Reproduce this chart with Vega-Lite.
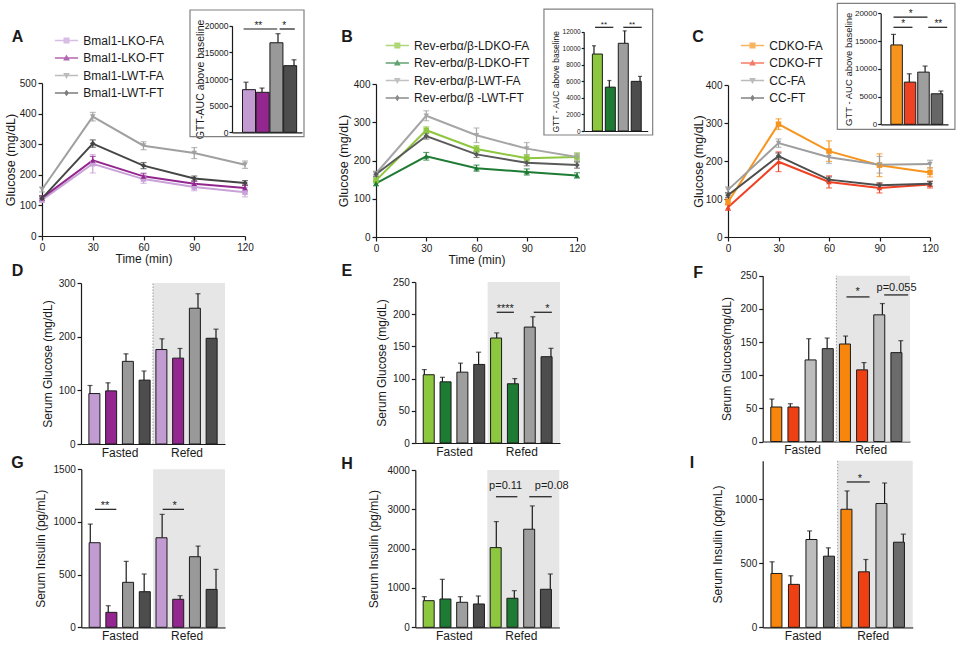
{
"$schema": "https://vega.github.io/schema/vega-lite/v6.json",
"width": 957, "height": 648, "autosize": "none", "padding": 0,
"background": "white",
"config": {
  "view": {"stroke": null},
  "font": "Liberation Sans",
  "axis": {"grid": false, "domainColor": "#1a1a1a", "tickColor": "#1a1a1a", "labelColor": "#1a1a1a", "titleColor": "#1a1a1a", "labelFont": "Liberation Sans", "titleFont": "Liberation Sans", "titleFontWeight": "normal", "labelFontSize": 10, "titleFontSize": 12, "tickSize": 4, "labelPadding": 2, "domainWidth": 1.2, "tickWidth": 1.2, "labelFlush": false, "labelOverlap": false, "zindex": 1},
  "legend": {"labelFont": "Liberation Sans", "labelColor": "#1a1a1a"},
  "text": {"font": "Liberation Sans", "color": "#1a1a1a"}
},
"datasets": {
  "lineA": [
    {"g":"Bmal1-LKO-FA","t":0,"m":118,"lo":110,"hi":126},
    {"g":"Bmal1-LKO-FA","t":30,"m":236,"lo":206,"hi":266},
    {"g":"Bmal1-LKO-FA","t":60,"m":186,"lo":172,"hi":200},
    {"g":"Bmal1-LKO-FA","t":90,"m":160,"lo":148,"hi":172},
    {"g":"Bmal1-LKO-FA","t":120,"m":143,"lo":128,"hi":158},
    {"g":"Bmal1-LKO-FT","t":0,"m":124,"lo":116,"hi":132},
    {"g":"Bmal1-LKO-FT","t":30,"m":247,"lo":234,"hi":260},
    {"g":"Bmal1-LKO-FT","t":60,"m":195,"lo":185,"hi":205},
    {"g":"Bmal1-LKO-FT","t":90,"m":171,"lo":163,"hi":179},
    {"g":"Bmal1-LKO-FT","t":120,"m":157,"lo":147,"hi":167},
    {"g":"Bmal1-LWT-FA","t":0,"m":152,"lo":144,"hi":160},
    {"g":"Bmal1-LWT-FA","t":30,"m":390,"lo":376,"hi":404},
    {"g":"Bmal1-LWT-FA","t":60,"m":295,"lo":282,"hi":308},
    {"g":"Bmal1-LWT-FA","t":90,"m":271,"lo":253,"hi":289},
    {"g":"Bmal1-LWT-FA","t":120,"m":233,"lo":221,"hi":245},
    {"g":"Bmal1-LWT-FT","t":0,"m":123,"lo":116,"hi":130},
    {"g":"Bmal1-LWT-FT","t":30,"m":302,"lo":290,"hi":314},
    {"g":"Bmal1-LWT-FT","t":60,"m":230,"lo":220,"hi":240},
    {"g":"Bmal1-LWT-FT","t":90,"m":188,"lo":180,"hi":196},
    {"g":"Bmal1-LWT-FT","t":120,"m":173,"lo":165,"hi":181}
  ],
  "lineB": [
    {"g":"Rev-erbα/β-LDKO-FA","t":0,"m":148,"lo":141,"hi":155},
    {"g":"Rev-erbα/β-LDKO-FA","t":30,"m":279,"lo":270,"hi":288},
    {"g":"Rev-erbα/β-LDKO-FA","t":60,"m":230,"lo":221,"hi":239},
    {"g":"Rev-erbα/β-LDKO-FA","t":90,"m":206,"lo":197,"hi":215},
    {"g":"Rev-erbα/β-LDKO-FA","t":120,"m":209,"lo":198,"hi":220},
    {"g":"Rev-erbα/β-LDKO-FT","t":0,"m":140,"lo":134,"hi":146},
    {"g":"Rev-erbα/β-LDKO-FT","t":30,"m":211,"lo":201,"hi":221},
    {"g":"Rev-erbα/β-LDKO-FT","t":60,"m":180,"lo":172,"hi":188},
    {"g":"Rev-erbα/β-LDKO-FT","t":90,"m":170,"lo":162,"hi":178},
    {"g":"Rev-erbα/β-LDKO-FT","t":120,"m":161,"lo":154,"hi":168},
    {"g":"Rev-erbα/β-LWT-FA","t":0,"m":166,"lo":160,"hi":172},
    {"g":"Rev-erbα/β-LWT-FA","t":30,"m":317,"lo":304,"hi":330},
    {"g":"Rev-erbα/β-LWT-FA","t":60,"m":266,"lo":247,"hi":285},
    {"g":"Rev-erbα/β-LWT-FA","t":90,"m":231,"lo":215,"hi":247},
    {"g":"Rev-erbα/β-LWT-FA","t":120,"m":209,"lo":200,"hi":218},
    {"g":"Rev-erbα/β -LWT-FT","t":0,"m":164,"lo":158,"hi":170},
    {"g":"Rev-erbα/β -LWT-FT","t":30,"m":264,"lo":256,"hi":272},
    {"g":"Rev-erbα/β -LWT-FT","t":60,"m":216,"lo":208,"hi":224},
    {"g":"Rev-erbα/β -LWT-FT","t":90,"m":194,"lo":186,"hi":202},
    {"g":"Rev-erbα/β -LWT-FT","t":120,"m":188,"lo":180,"hi":196}
  ],
  "lineC": [
    {"g":"CDKO-FA","t":0,"m":92,"lo":84,"hi":100},
    {"g":"CDKO-FA","t":30,"m":297,"lo":283,"hi":311},
    {"g":"CDKO-FA","t":60,"m":226,"lo":199,"hi":253},
    {"g":"CDKO-FA","t":90,"m":189,"lo":159,"hi":219},
    {"g":"CDKO-FA","t":120,"m":170,"lo":158,"hi":182},
    {"g":"CDKO-FT","t":0,"m":78,"lo":70,"hi":86},
    {"g":"CDKO-FT","t":30,"m":198,"lo":172,"hi":224},
    {"g":"CDKO-FT","t":60,"m":145,"lo":129,"hi":161},
    {"g":"CDKO-FT","t":90,"m":129,"lo":116,"hi":142},
    {"g":"CDKO-FT","t":120,"m":138,"lo":129,"hi":147},
    {"g":"CC-FA","t":0,"m":124,"lo":116,"hi":132},
    {"g":"CC-FA","t":30,"m":247,"lo":236,"hi":258},
    {"g":"CC-FA","t":60,"m":210,"lo":194,"hi":226},
    {"g":"CC-FA","t":90,"m":190,"lo":168,"hi":212},
    {"g":"CC-FA","t":120,"m":192,"lo":182,"hi":202},
    {"g":"CC-FT","t":0,"m":110,"lo":104,"hi":116},
    {"g":"CC-FT","t":30,"m":213,"lo":205,"hi":221},
    {"g":"CC-FT","t":60,"m":151,"lo":144,"hi":158},
    {"g":"CC-FT","t":90,"m":136,"lo":130,"hi":142},
    {"g":"CC-FT","t":120,"m":140,"lo":134,"hi":146}
  ],
  "aucA": [
    {"k":1,"g":"Bmal1-LKO-FA","m":8000,"hi":9400},
    {"k":2,"g":"Bmal1-LKO-FT","m":7500,"hi":8300},
    {"k":3,"g":"Bmal1-LWT-FA","m":16800,"hi":18500},
    {"k":4,"g":"Bmal1-LWT-FT","m":12500,"hi":13600}
  ],
  "aucB": [
    {"k":1,"g":"Rev-erbα/β-LDKO-FA","m":9300,"hi":10300},
    {"k":2,"g":"Rev-erbα/β-LDKO-FT","m":5300,"hi":6100},
    {"k":3,"g":"Rev-erbα/β-LWT-FA","m":10600,"hi":12100},
    {"k":4,"g":"Rev-erbα/β -LWT-FT","m":6000,"hi":6600}
  ],
  "aucC": [
    {"k":1,"g":"CDKO-FA","m":14300,"hi":16200},
    {"k":2,"g":"CDKO-FT","m":7600,"hi":9100},
    {"k":3,"g":"CC-FA","m":9400,"hi":10500},
    {"k":4,"g":"CC-FT","m":5500,"hi":6000}
  ],
  "sigAucA": [
    {"x1":0.85,"x2":2.95,"y":19380,"lx":1.77,"lab":"**"},
    {"x1":3.1,"x2":4.05,"y":19380,"lx":3.39,"lab":"*"}
  ],
  "sigAucB": [
    {"x1":1.07,"x2":2.26,"y":12530,"lx":1.65,"lab":"**"},
    {"x1":2.91,"x2":4.11,"y":12530,"lx":3.48,"lab":"**"}
  ],
  "sigAucC": [
    {"x1":1.0,"x2":3.15,"y":19300,"lx":2.09,"lab":"*"},
    {"x1":1.0,"x2":2.2,"y":17480,"lx":1.62,"lab":"*"},
    {"x1":3.2,"x2":4.4,"y":17480,"lx":3.84,"lab":"**"}
  ],
  "barD": [
    {"c":"Fasted","i":1,"g":"Bmal1-LKO-FA","m":94,"hi":109},
    {"c":"Fasted","i":2,"g":"Bmal1-LKO-FT","m":99,"hi":114},
    {"c":"Fasted","i":3,"g":"Bmal1-LWT-FA","m":154,"hi":168},
    {"c":"Fasted","i":4,"g":"Bmal1-LWT-FT","m":119,"hi":136},
    {"c":"Refed","i":5,"g":"Bmal1-LKO-FA","m":176,"hi":196},
    {"c":"Refed","i":6,"g":"Bmal1-LKO-FT","m":160,"hi":178},
    {"c":"Refed","i":7,"g":"Bmal1-LWT-FA","m":253,"hi":280},
    {"c":"Refed","i":8,"g":"Bmal1-LWT-FT","m":197,"hi":214}
  ],
  "barG": [
    {"c":"Fasted","i":1,"g":"Bmal1-LKO-FA","m":803,"hi":980},
    {"c":"Fasted","i":2,"g":"Bmal1-LKO-FT","m":142,"hi":205},
    {"c":"Fasted","i":3,"g":"Bmal1-LWT-FA","m":427,"hi":626},
    {"c":"Fasted","i":4,"g":"Bmal1-LWT-FT","m":338,"hi":506},
    {"c":"Refed","i":5,"g":"Bmal1-LKO-FA","m":850,"hi":1072},
    {"c":"Refed","i":6,"g":"Bmal1-LKO-FT","m":266,"hi":300},
    {"c":"Refed","i":7,"g":"Bmal1-LWT-FA","m":670,"hi":771},
    {"c":"Refed","i":8,"g":"Bmal1-LWT-FT","m":360,"hi":550}
  ],
  "barE": [
    {"c":"Fasted","i":1,"g":"Rev-erbα/β-LDKO-FA","m":106,"hi":114},
    {"c":"Fasted","i":2,"g":"Rev-erbα/β-LDKO-FT","m":95,"hi":102},
    {"c":"Fasted","i":3,"g":"Rev-erbα/β-LWT-FA","m":110,"hi":124},
    {"c":"Fasted","i":4,"g":"Rev-erbα/β -LWT-FT","m":122,"hi":141},
    {"c":"Refed","i":5,"g":"Rev-erbα/β-LDKO-FA","m":163,"hi":171},
    {"c":"Refed","i":6,"g":"Rev-erbα/β-LDKO-FT","m":92,"hi":100},
    {"c":"Refed","i":7,"g":"Rev-erbα/β-LWT-FA","m":180,"hi":196},
    {"c":"Refed","i":8,"g":"Rev-erbα/β -LWT-FT","m":134,"hi":147}
  ],
  "barH": [
    {"c":"Fasted","i":1,"g":"Rev-erbα/β-LDKO-FA","m":677,"hi":779},
    {"c":"Fasted","i":2,"g":"Rev-erbα/β-LDKO-FT","m":720,"hi":1220},
    {"c":"Fasted","i":3,"g":"Rev-erbα/β-LWT-FA","m":636,"hi":779},
    {"c":"Fasted","i":4,"g":"Rev-erbα/β -LWT-FT","m":593,"hi":797},
    {"c":"Refed","i":5,"g":"Rev-erbα/β-LDKO-FA","m":2026,"hi":2688},
    {"c":"Refed","i":6,"g":"Rev-erbα/β-LDKO-FT","m":738,"hi":932},
    {"c":"Refed","i":7,"g":"Rev-erbα/β-LWT-FA","m":2494,"hi":3087},
    {"c":"Refed","i":8,"g":"Rev-erbα/β -LWT-FT","m":967,"hi":1356}
  ],
  "barF": [
    {"c":"Fasted","i":1,"g":"CDKO-FA","m":52,"hi":64},
    {"c":"Fasted","i":2,"g":"CDKO-FT","m":52,"hi":57},
    {"c":"Fasted","i":3,"g":"CC-FA","m":123,"hi":155},
    {"c":"Fasted","i":4,"g":"CC-FT","m":140,"hi":156},
    {"c":"Refed","i":5,"g":"CDKO-FA","m":147,"hi":159},
    {"c":"Refed","i":6,"g":"CDKO-FT","m":108,"hi":119},
    {"c":"Refed","i":7,"g":"CC-FA","m":191,"hi":208},
    {"c":"Refed","i":8,"g":"CC-FT","m":134,"hi":152}
  ],
  "barI": [
    {"c":"Fasted","i":1,"g":"CDKO-FA","m":420,"hi":511},
    {"c":"Fasted","i":2,"g":"CDKO-FT","m":335,"hi":402},
    {"c":"Fasted","i":3,"g":"CC-FA","m":685,"hi":752},
    {"c":"Fasted","i":4,"g":"CC-FT","m":555,"hi":620},
    {"c":"Refed","i":5,"g":"CDKO-FA","m":921,"hi":1064},
    {"c":"Refed","i":6,"g":"CDKO-FT","m":433,"hi":529},
    {"c":"Refed","i":7,"g":"CC-FA","m":966,"hi":1126},
    {"c":"Refed","i":8,"g":"CC-FT","m":664,"hi":727}
  ],
  "sigE": [
    {"x1":5.0,"x2":5.95,"y":203,"lx":5.47,"ly":203,"lab":"****"},
    {"x1":7.05,"x2":8.05,"y":203,"lx":7.8,"ly":203,"lab":"*"}
  ],
  "sigF": [
    {"x1":5.05,"x2":6.3,"y":218,"lx":5.66,"ly":221,"lab":"*"},
    {"x1":7.1,"x2":8.4,"y":221,"lx":7.77,"ly":227,"lab":"p=0.055"}
  ],
  "sigG": [
    {"x1":1.26,"x2":2.45,"y":1120,"lx":1.82,"ly":1120,"lab":"**"},
    {"x1":5.03,"x2":6.22,"y":1120,"lx":5.7,"ly":1120,"lab":"*"}
  ],
  "sigH": [
    {"x1":4.98,"x2":6.17,"y":3320,"lx":5.52,"ly":3516,"lab":"p=0.11"},
    {"x1":6.83,"x2":8.08,"y":3320,"lx":8.08,"ly":3516,"lab":"p=0.08"}
  ],
  "sigI": [
    {"x1":4.98,"x2":6.21,"y":1134,"lx":5.69,"ly":1134,"lab":"*"}
  ]
},
"resolve": {"scale": {"x": "independent", "y": "independent", "color": "independent", "shape": "independent"}},
"layer": [
    {"data": {"name": "lineA"}, "transform": [{"filter": "false"}], "mark": {"type": "point", "filled": true},
     "encoding": {
       "color": {"field": "g", "type": "nominal", "scale": {"domain": ["Bmal1-LKO-FA","Bmal1-LKO-FT","Bmal1-LWT-FA","Bmal1-LWT-FT"], "range": ["#C8A2D8","#93278F","#A0A0A0","#454545"]}, "legend": {"title": null, "orient": "none", "legendX": 58.5, "legendY": 32.5, "direction": "vertical", "columns": 1, "symbolSize": 256, "symbolStrokeWidth": 0, "labelOffset": 8.8, "rowPadding": 3.5, "labelFontSize": 12, "labelLimit": 300}},
       "shape": {"field": "g", "type": "nominal", "scale": {"domain": ["Bmal1-LKO-FA","Bmal1-LKO-FT","Bmal1-LWT-FA","Bmal1-LWT-FT"], "range": ["M-1.45,-0.1H1.45V0.1H-1.45ZM-0.38,-0.38H0.38V0.38H-0.38Z","M-1.45,-0.1H1.45V0.1H-1.45ZM0,-0.45L0.42,0.3H-0.42Z","M-1.45,-0.1H1.45V0.1H-1.45ZM0,0.45L-0.42,-0.3H0.42Z","M-1.45,-0.1H1.45V0.1H-1.45ZM0,-0.42L0.3,0L0,0.42L-0.3,0Z"]}, "legend": {"title": null, "orient": "none", "legendX": 58.5, "legendY": 32.5, "direction": "vertical", "columns": 1, "symbolSize": 256, "symbolStrokeWidth": 0, "labelOffset": 8.8, "rowPadding": 3.5, "labelFontSize": 12, "labelLimit": 300}}
     }},
    {"data": {"name": "lineA"}, "mark": {"type": "rule", "strokeWidth": 1.2},
     "encoding": {
       "x": {"field": "t", "type": "quantitative", "scale": {"domain": [0,120], "range": [42,245], "nice": false, "zero": false}, "axis": {"orient": "bottom", "offset": -412, "values": [0,30,60,90,120], "title": "Time (min)", "titleFontSize": 12, "titlePadding": 1}},
       "y": {"field": "lo", "type": "quantitative", "scale": {"domain": [0,500], "range": [236,83], "nice": false, "zero": false}, "axis": {"orient": "left", "offset": -42, "values": [0,100,200,300,400,500], "format": "d", "title": "Glucose (mg/dL)", "titleFontSize": 12.5, "titleX": -32, "titleBaseline": "middle"}},
       "y2": {"field": "hi"},
       "color": {"field": "g", "type": "nominal", "scale": {"domain": ["Bmal1-LKO-FA","Bmal1-LKO-FT","Bmal1-LWT-FA","Bmal1-LWT-FT"], "range": ["#C8A2D8","#93278F","#A0A0A0","#454545"]}, "legend": null}
     }},
    {"data": {"name": "lineA"}, "mark": {"type": "tick", "orient": "horizontal", "size": 6, "thickness": 1.2},
     "encoding": {
       "x": {"field": "t", "type": "quantitative", "scale": {"domain": [0,120], "range": [42,245], "nice": false, "zero": false}, "axis": null},
       "y": {"field": "lo", "type": "quantitative", "scale": {"domain": [0,500], "range": [236,83], "nice": false, "zero": false}, "axis": null},
       "color": {"field": "g", "type": "nominal", "scale": {"domain": ["Bmal1-LKO-FA","Bmal1-LKO-FT","Bmal1-LWT-FA","Bmal1-LWT-FT"], "range": ["#C8A2D8","#93278F","#A0A0A0","#454545"]}, "legend": null}
     }},
    {"data": {"name": "lineA"}, "mark": {"type": "tick", "orient": "horizontal", "size": 6, "thickness": 1.2},
     "encoding": {
       "x": {"field": "t", "type": "quantitative", "scale": {"domain": [0,120], "range": [42,245], "nice": false, "zero": false}, "axis": null},
       "y": {"field": "hi", "type": "quantitative", "scale": {"domain": [0,500], "range": [236,83], "nice": false, "zero": false}, "axis": null},
       "color": {"field": "g", "type": "nominal", "scale": {"domain": ["Bmal1-LKO-FA","Bmal1-LKO-FT","Bmal1-LWT-FA","Bmal1-LWT-FT"], "range": ["#C8A2D8","#93278F","#A0A0A0","#454545"]}, "legend": null}
     }},
    {"data": {"name": "lineA"}, "mark": {"type": "line", "strokeWidth": 2},
     "encoding": {
       "x": {"field": "t", "type": "quantitative", "scale": {"domain": [0,120], "range": [42,245], "nice": false, "zero": false}, "axis": null},
       "y": {"field": "m", "type": "quantitative", "scale": {"domain": [0,500], "range": [236,83], "nice": false, "zero": false}, "axis": null},
       "color": {"field": "g", "type": "nominal", "scale": {"domain": ["Bmal1-LKO-FA","Bmal1-LKO-FT","Bmal1-LWT-FA","Bmal1-LWT-FT"], "range": ["#C8A2D8","#93278F","#A0A0A0","#454545"]}, "legend": null}
     }},
    {"data": {"name": "lineA"}, "mark": {"type": "point", "filled": true, "size": 30, "opacity": 1},
     "encoding": {
       "x": {"field": "t", "type": "quantitative", "scale": {"domain": [0,120], "range": [42,245], "nice": false, "zero": false}, "axis": null},
       "y": {"field": "m", "type": "quantitative", "scale": {"domain": [0,500], "range": [236,83], "nice": false, "zero": false}, "axis": null},
       "color": {"field": "g", "type": "nominal", "scale": {"domain": ["Bmal1-LKO-FA","Bmal1-LKO-FT","Bmal1-LWT-FA","Bmal1-LWT-FT"], "range": ["#C8A2D8","#93278F","#A0A0A0","#454545"]}, "legend": null},
       "shape": {"field": "g", "type": "nominal", "scale": {"domain": ["Bmal1-LKO-FA","Bmal1-LKO-FT","Bmal1-LWT-FA","Bmal1-LWT-FT"], "range": ["square","triangle-up","triangle-down","diamond"]}, "legend": null}
     }},
    {"data": {"values": [{"p": "A"}]},
     "mark": {"type": "text", "fontSize": 16, "fontWeight": "bold", "align": "center", "baseline": "alphabetic"},
     "encoding": {
       "x": {"datum": -14.5, "type": "quantitative", "scale": {"domain": [0,120], "range": [42,245], "nice": false, "zero": false}, "axis": null},
       "y": {"datum": 634, "type": "quantitative", "scale": {"domain": [0,500], "range": [236,83], "nice": false, "zero": false}, "axis": null},
       "text": {"field": "p"}
     }},

    {"data": {"values": [{}]}, "mark": {"type": "rect", "fill": "transparent", "stroke": "#808080", "strokeWidth": 1.2},
     "encoding": {"x": {"datum": -2.5, "type": "quantitative", "scale": {"domain": [0.125,4.5], "range": [232,302], "nice": false, "zero": false}, "axis": null}, "x2": {"datum": 4.625},
                  "y": {"datum": -825, "type": "quantitative", "scale": {"domain": [0,20000], "range": [132.3,25.7], "nice": false, "zero": false}, "axis": null}, "y2": {"datum": 22946}}},
    {"data": {"name": "aucA"}, "mark": {"type": "rule", "color": "#1a1a1a", "strokeWidth": 1.2},
     "encoding": {"x": {"field": "k", "type": "quantitative", "scale": {"domain": [0.125,4.5], "range": [232,302], "nice": false, "zero": false}, "axis": null},
                  "y": {"field": "m", "type": "quantitative", "scale": {"domain": [0,20000], "range": [132.3,25.7], "nice": false, "zero": false}, "axis": null}, "y2": {"field": "hi"}}},
    {"data": {"name": "aucA"}, "mark": {"type": "tick", "orient": "horizontal", "size": 5, "thickness": 1.2, "color": "#1a1a1a"},
     "encoding": {"x": {"field": "k", "type": "quantitative", "scale": {"domain": [0.125,4.5], "range": [232,302], "nice": false, "zero": false}, "axis": null},
                  "y": {"field": "hi", "type": "quantitative", "scale": {"domain": [0,20000], "range": [132.3,25.7], "nice": false, "zero": false}, "axis": null}}},
    {"data": {"name": "aucA"}, "mark": {"type": "bar", "orient": "vertical", "width": 13, "stroke": "#1a1a1a", "strokeWidth": 1},
     "encoding": {"x": {"field": "k", "type": "quantitative", "scale": {"domain": [0.125,4.5], "range": [232,302], "nice": false, "zero": false}, "axis": {"orient": "bottom", "offset": -515.7, "labels": false, "ticks": false, "title": null}},
                  "y": {"field": "m", "type": "quantitative", "stack": null, "scale": {"domain": [0,20000], "range": [132.3,25.7], "nice": false, "zero": false}, "axis": {"orient": "left", "offset": -232, "values": [0,5000,10000,15000,20000], "format": "d", "labelFontSize": 8.5, "tickSize": 3, "labelPadding": 1, "title": "GTT-AUC above baseline", "titleFontSize": 10.5, "titleX": -32, "titleBaseline": "middle"}},
                  "y2": {"datum": 0},
                  "color": {"field": "g", "type": "nominal", "scale": {"domain": ["Bmal1-LKO-FA","Bmal1-LKO-FT","Bmal1-LWT-FA","Bmal1-LWT-FT"], "range": ["#C39BD3","#93278F","#999999","#4D4D4D"]}, "legend": null}}},
    {"data": {"name": "sigAucA"}, "mark": {"type": "rule", "color": "#1a1a1a", "strokeWidth": 1.2},
     "encoding": {"x": {"field": "x1", "type": "quantitative", "scale": {"domain": [0.125,4.5], "range": [232,302], "nice": false, "zero": false}, "axis": null}, "x2": {"field": "x2"},
                  "y": {"field": "y", "type": "quantitative", "scale": {"domain": [0,20000], "range": [132.3,25.7], "nice": false, "zero": false}, "axis": null}}},
    {"data": {"name": "sigAucA"}, "mark": {"type": "text", "fontSize": 10, "align": "center", "baseline": "alphabetic"},
     "encoding": {"x": {"field": "lx", "type": "quantitative", "scale": {"domain": [0.125,4.5], "range": [232,302], "nice": false, "zero": false}, "axis": null},
                  "y": {"field": "y", "type": "quantitative", "scale": {"domain": [0,20000], "range": [132.3,25.7], "nice": false, "zero": false}, "axis": null}, "text": {"field": "lab"}}},

    {"data": {"name": "lineB"}, "transform": [{"filter": "false"}], "mark": {"type": "point", "filled": true},
     "encoding": {
       "color": {"field": "g", "type": "nominal", "scale": {"domain": ["Rev-erbα/β-LDKO-FA","Rev-erbα/β-LDKO-FT","Rev-erbα/β-LWT-FA","Rev-erbα/β -LWT-FT"], "range": ["#8DC63F","#1E7B34","#A6A6A6","#5A5A5A"]}, "legend": {"title": null, "orient": "none", "legendX": 389.3, "legendY": 37.5, "direction": "vertical", "columns": 1, "symbolSize": 256, "symbolStrokeWidth": 0, "labelOffset": 8.8, "rowPadding": 3.5, "labelFontSize": 12, "labelLimit": 300}},
       "shape": {"field": "g", "type": "nominal", "scale": {"domain": ["Rev-erbα/β-LDKO-FA","Rev-erbα/β-LDKO-FT","Rev-erbα/β-LWT-FA","Rev-erbα/β -LWT-FT"], "range": ["M-1.45,-0.1H1.45V0.1H-1.45ZM-0.38,-0.38H0.38V0.38H-0.38Z","M-1.45,-0.1H1.45V0.1H-1.45ZM0,-0.45L0.42,0.3H-0.42Z","M-1.45,-0.1H1.45V0.1H-1.45ZM0,0.45L-0.42,-0.3H0.42Z","M-1.45,-0.1H1.45V0.1H-1.45ZM0,-0.42L0.3,0L0,0.42L-0.3,0Z"]}, "legend": {"title": null, "orient": "none", "legendX": 389.3, "legendY": 37.5, "direction": "vertical", "columns": 1, "symbolSize": 256, "symbolStrokeWidth": 0, "labelOffset": 8.8, "rowPadding": 3.5, "labelFontSize": 12, "labelLimit": 300}}
     }},
    {"data": {"name": "lineB"}, "mark": {"type": "rule", "strokeWidth": 1.2},
     "encoding": {
       "x": {"field": "t", "type": "quantitative", "scale": {"domain": [0,120], "range": [376,577], "nice": false, "zero": false}, "axis": {"orient": "bottom", "offset": -411, "values": [0,30,60,90,120], "title": "Time (min)", "titleFontSize": 12, "titlePadding": 1}},
       "y": {"field": "lo", "type": "quantitative", "scale": {"domain": [0,400], "range": [237,84], "nice": false, "zero": false}, "axis": {"orient": "left", "offset": -376, "values": [0,100,200,300,400], "format": "d", "title": "Glucose (mg/dL)", "titleFontSize": 12.5, "titleX": -33, "titleBaseline": "middle"}},
       "y2": {"field": "hi"},
       "color": {"field": "g", "type": "nominal", "scale": {"domain": ["Rev-erbα/β-LDKO-FA","Rev-erbα/β-LDKO-FT","Rev-erbα/β-LWT-FA","Rev-erbα/β -LWT-FT"], "range": ["#8DC63F","#1E7B34","#A6A6A6","#5A5A5A"]}, "legend": null}
     }},
    {"data": {"name": "lineB"}, "mark": {"type": "tick", "orient": "horizontal", "size": 6, "thickness": 1.2},
     "encoding": {
       "x": {"field": "t", "type": "quantitative", "scale": {"domain": [0,120], "range": [376,577], "nice": false, "zero": false}, "axis": null},
       "y": {"field": "lo", "type": "quantitative", "scale": {"domain": [0,400], "range": [237,84], "nice": false, "zero": false}, "axis": null},
       "color": {"field": "g", "type": "nominal", "scale": {"domain": ["Rev-erbα/β-LDKO-FA","Rev-erbα/β-LDKO-FT","Rev-erbα/β-LWT-FA","Rev-erbα/β -LWT-FT"], "range": ["#8DC63F","#1E7B34","#A6A6A6","#5A5A5A"]}, "legend": null}
     }},
    {"data": {"name": "lineB"}, "mark": {"type": "tick", "orient": "horizontal", "size": 6, "thickness": 1.2},
     "encoding": {
       "x": {"field": "t", "type": "quantitative", "scale": {"domain": [0,120], "range": [376,577], "nice": false, "zero": false}, "axis": null},
       "y": {"field": "hi", "type": "quantitative", "scale": {"domain": [0,400], "range": [237,84], "nice": false, "zero": false}, "axis": null},
       "color": {"field": "g", "type": "nominal", "scale": {"domain": ["Rev-erbα/β-LDKO-FA","Rev-erbα/β-LDKO-FT","Rev-erbα/β-LWT-FA","Rev-erbα/β -LWT-FT"], "range": ["#8DC63F","#1E7B34","#A6A6A6","#5A5A5A"]}, "legend": null}
     }},
    {"data": {"name": "lineB"}, "mark": {"type": "line", "strokeWidth": 2},
     "encoding": {
       "x": {"field": "t", "type": "quantitative", "scale": {"domain": [0,120], "range": [376,577], "nice": false, "zero": false}, "axis": null},
       "y": {"field": "m", "type": "quantitative", "scale": {"domain": [0,400], "range": [237,84], "nice": false, "zero": false}, "axis": null},
       "color": {"field": "g", "type": "nominal", "scale": {"domain": ["Rev-erbα/β-LDKO-FA","Rev-erbα/β-LDKO-FT","Rev-erbα/β-LWT-FA","Rev-erbα/β -LWT-FT"], "range": ["#8DC63F","#1E7B34","#A6A6A6","#5A5A5A"]}, "legend": null}
     }},
    {"data": {"name": "lineB"}, "mark": {"type": "point", "filled": true, "size": 30, "opacity": 1},
     "encoding": {
       "x": {"field": "t", "type": "quantitative", "scale": {"domain": [0,120], "range": [376,577], "nice": false, "zero": false}, "axis": null},
       "y": {"field": "m", "type": "quantitative", "scale": {"domain": [0,400], "range": [237,84], "nice": false, "zero": false}, "axis": null},
       "color": {"field": "g", "type": "nominal", "scale": {"domain": ["Rev-erbα/β-LDKO-FA","Rev-erbα/β-LDKO-FT","Rev-erbα/β-LWT-FA","Rev-erbα/β -LWT-FT"], "range": ["#8DC63F","#1E7B34","#A6A6A6","#5A5A5A"]}, "legend": null},
       "shape": {"field": "g", "type": "nominal", "scale": {"domain": ["Rev-erbα/β-LDKO-FA","Rev-erbα/β-LDKO-FT","Rev-erbα/β-LWT-FA","Rev-erbα/β -LWT-FT"], "range": ["square","triangle-up","triangle-down","diamond"]}, "legend": null}
     }},
    {"data": {"values": [{"p": "B"}]},
     "mark": {"type": "text", "fontSize": 16, "fontWeight": "bold", "align": "center", "baseline": "alphabetic"},
     "encoding": {
       "x": {"datum": -17.3, "type": "quantitative", "scale": {"domain": [0,120], "range": [376,577], "nice": false, "zero": false}, "axis": null},
       "y": {"datum": 510, "type": "quantitative", "scale": {"domain": [0,400], "range": [237,84], "nice": false, "zero": false}, "axis": null},
       "text": {"field": "p"}
     }},

    {"data": {"values": [{}]}, "mark": {"type": "rect", "fill": "transparent", "stroke": "#808080", "strokeWidth": 1.2},
     "encoding": {"x": {"datum": -2.26, "type": "quantitative", "scale": {"domain": [0.33,4.5], "range": [583.7,647.7], "nice": false, "zero": false}, "axis": null}, "x2": {"datum": 4.825},
                  "y": {"datum": -483, "type": "quantitative", "scale": {"domain": [0,12000], "range": [131,31.7], "nice": false, "zero": false}, "axis": null}, "y2": {"datum": 14740}}},
    {"data": {"name": "aucB"}, "mark": {"type": "rule", "color": "#1a1a1a", "strokeWidth": 1.2},
     "encoding": {"x": {"field": "k", "type": "quantitative", "scale": {"domain": [0.33,4.5], "range": [583.7,647.7], "nice": false, "zero": false}, "axis": null},
                  "y": {"field": "m", "type": "quantitative", "scale": {"domain": [0,12000], "range": [131,31.7], "nice": false, "zero": false}, "axis": null}, "y2": {"field": "hi"}}},
    {"data": {"name": "aucB"}, "mark": {"type": "tick", "orient": "horizontal", "size": 4, "thickness": 1.2, "color": "#1a1a1a"},
     "encoding": {"x": {"field": "k", "type": "quantitative", "scale": {"domain": [0.33,4.5], "range": [583.7,647.7], "nice": false, "zero": false}, "axis": null},
                  "y": {"field": "hi", "type": "quantitative", "scale": {"domain": [0,12000], "range": [131,31.7], "nice": false, "zero": false}, "axis": null}}},
    {"data": {"name": "aucB"}, "mark": {"type": "bar", "orient": "vertical", "width": 10, "stroke": "#1a1a1a", "strokeWidth": 1},
     "encoding": {"x": {"field": "k", "type": "quantitative", "scale": {"domain": [0.33,4.5], "range": [583.7,647.7], "nice": false, "zero": false}, "axis": {"orient": "bottom", "offset": -517, "labels": false, "ticks": false, "title": null}},
                  "y": {"field": "m", "type": "quantitative", "stack": null, "scale": {"domain": [0,12000], "range": [131,31.7], "nice": false, "zero": false}, "axis": {"orient": "left", "offset": -583.7, "values": [0,2000,4000,6000,8000,10000,12000], "format": "d", "labelFontSize": 6.5, "tickSize": 2.5, "labelPadding": 1, "title": "GTT - AUC above baseline", "titleFontSize": 8.5, "titleX": -28.7, "titleBaseline": "middle"}},
                  "y2": {"datum": 0},
                  "color": {"field": "g", "type": "nominal", "scale": {"domain": ["Rev-erbα/β-LDKO-FA","Rev-erbα/β-LDKO-FT","Rev-erbα/β-LWT-FA","Rev-erbα/β -LWT-FT"], "range": ["#8DC63F","#1E7B34","#9E9E9E","#4D4D4D"]}, "legend": null}}},
    {"data": {"name": "sigAucB"}, "mark": {"type": "rule", "color": "#1a1a1a", "strokeWidth": 1.2},
     "encoding": {"x": {"field": "x1", "type": "quantitative", "scale": {"domain": [0.33,4.5], "range": [583.7,647.7], "nice": false, "zero": false}, "axis": null}, "x2": {"field": "x2"},
                  "y": {"field": "y", "type": "quantitative", "scale": {"domain": [0,12000], "range": [131,31.7], "nice": false, "zero": false}, "axis": null}}},
    {"data": {"name": "sigAucB"}, "mark": {"type": "text", "fontSize": 8, "align": "center", "baseline": "alphabetic"},
     "encoding": {"x": {"field": "lx", "type": "quantitative", "scale": {"domain": [0.33,4.5], "range": [583.7,647.7], "nice": false, "zero": false}, "axis": null},
                  "y": {"field": "y", "type": "quantitative", "scale": {"domain": [0,12000], "range": [131,31.7], "nice": false, "zero": false}, "axis": null}, "text": {"field": "lab"}}},

    {"data": {"name": "lineC"}, "transform": [{"filter": "false"}], "mark": {"type": "point", "filled": true},
     "encoding": {
       "color": {"field": "g", "type": "nominal", "scale": {"domain": ["CDKO-FA","CDKO-FT","CC-FA","CC-FT"], "range": ["#F7941D","#EF4123","#9E9E9E","#4D4D4D"]}, "legend": {"title": null, "orient": "none", "legendX": 744.5, "legendY": 37.5, "direction": "vertical", "columns": 1, "symbolSize": 256, "symbolStrokeWidth": 0, "labelOffset": 8.8, "rowPadding": 3.5, "labelFontSize": 12, "labelLimit": 300}},
       "shape": {"field": "g", "type": "nominal", "scale": {"domain": ["CDKO-FA","CDKO-FT","CC-FA","CC-FT"], "range": ["M-1.45,-0.1H1.45V0.1H-1.45ZM-0.38,-0.38H0.38V0.38H-0.38Z","M-1.45,-0.1H1.45V0.1H-1.45ZM0,-0.45L0.42,0.3H-0.42Z","M-1.45,-0.1H1.45V0.1H-1.45ZM0,0.45L-0.42,-0.3H0.42Z","M-1.45,-0.1H1.45V0.1H-1.45ZM0,-0.42L0.3,0L0,0.42L-0.3,0Z"]}, "legend": {"title": null, "orient": "none", "legendX": 744.5, "legendY": 37.5, "direction": "vertical", "columns": 1, "symbolSize": 256, "symbolStrokeWidth": 0, "labelOffset": 8.8, "rowPadding": 3.5, "labelFontSize": 12, "labelLimit": 300}}
     }},
    {"data": {"name": "lineC"}, "mark": {"type": "rule", "strokeWidth": 1.2},
     "encoding": {
       "x": {"field": "t", "type": "quantitative", "scale": {"domain": [0,120], "range": [728,930], "nice": false, "zero": false}, "axis": {"orient": "bottom", "offset": -411, "values": [0,30,60,90,120], "title": null}},
       "y": {"field": "lo", "type": "quantitative", "scale": {"domain": [0,400], "range": [237,85], "nice": false, "zero": false}, "axis": {"orient": "left", "offset": -728, "values": [0,100,200,300,400], "format": "d", "title": "Glucose (mg/dL)", "titleFontSize": 12.5, "titleX": -30, "titleBaseline": "middle"}},
       "y2": {"field": "hi"},
       "color": {"field": "g", "type": "nominal", "scale": {"domain": ["CDKO-FA","CDKO-FT","CC-FA","CC-FT"], "range": ["#F7941D","#EF4123","#9E9E9E","#4D4D4D"]}, "legend": null}
     }},
    {"data": {"name": "lineC"}, "mark": {"type": "tick", "orient": "horizontal", "size": 6, "thickness": 1.2},
     "encoding": {
       "x": {"field": "t", "type": "quantitative", "scale": {"domain": [0,120], "range": [728,930], "nice": false, "zero": false}, "axis": null},
       "y": {"field": "lo", "type": "quantitative", "scale": {"domain": [0,400], "range": [237,85], "nice": false, "zero": false}, "axis": null},
       "color": {"field": "g", "type": "nominal", "scale": {"domain": ["CDKO-FA","CDKO-FT","CC-FA","CC-FT"], "range": ["#F7941D","#EF4123","#9E9E9E","#4D4D4D"]}, "legend": null}
     }},
    {"data": {"name": "lineC"}, "mark": {"type": "tick", "orient": "horizontal", "size": 6, "thickness": 1.2},
     "encoding": {
       "x": {"field": "t", "type": "quantitative", "scale": {"domain": [0,120], "range": [728,930], "nice": false, "zero": false}, "axis": null},
       "y": {"field": "hi", "type": "quantitative", "scale": {"domain": [0,400], "range": [237,85], "nice": false, "zero": false}, "axis": null},
       "color": {"field": "g", "type": "nominal", "scale": {"domain": ["CDKO-FA","CDKO-FT","CC-FA","CC-FT"], "range": ["#F7941D","#EF4123","#9E9E9E","#4D4D4D"]}, "legend": null}
     }},
    {"data": {"name": "lineC"}, "mark": {"type": "line", "strokeWidth": 2},
     "encoding": {
       "x": {"field": "t", "type": "quantitative", "scale": {"domain": [0,120], "range": [728,930], "nice": false, "zero": false}, "axis": null},
       "y": {"field": "m", "type": "quantitative", "scale": {"domain": [0,400], "range": [237,85], "nice": false, "zero": false}, "axis": null},
       "color": {"field": "g", "type": "nominal", "scale": {"domain": ["CDKO-FA","CDKO-FT","CC-FA","CC-FT"], "range": ["#F7941D","#EF4123","#9E9E9E","#4D4D4D"]}, "legend": null}
     }},
    {"data": {"name": "lineC"}, "mark": {"type": "point", "filled": true, "size": 30, "opacity": 1},
     "encoding": {
       "x": {"field": "t", "type": "quantitative", "scale": {"domain": [0,120], "range": [728,930], "nice": false, "zero": false}, "axis": null},
       "y": {"field": "m", "type": "quantitative", "scale": {"domain": [0,400], "range": [237,85], "nice": false, "zero": false}, "axis": null},
       "color": {"field": "g", "type": "nominal", "scale": {"domain": ["CDKO-FA","CDKO-FT","CC-FA","CC-FT"], "range": ["#F7941D","#EF4123","#9E9E9E","#4D4D4D"]}, "legend": null},
       "shape": {"field": "g", "type": "nominal", "scale": {"domain": ["CDKO-FA","CDKO-FT","CC-FA","CC-FT"], "range": ["square","triangle-up","triangle-down","diamond"]}, "legend": null}
     }},
    {"data": {"values": [{"p": "C"}]},
     "mark": {"type": "text", "fontSize": 16, "fontWeight": "bold", "align": "center", "baseline": "alphabetic"},
     "encoding": {
       "x": {"datum": -17.8, "type": "quantitative", "scale": {"domain": [0,120], "range": [728,930], "nice": false, "zero": false}, "axis": null},
       "y": {"datum": 513, "type": "quantitative", "scale": {"domain": [0,400], "range": [237,85], "nice": false, "zero": false}, "axis": null},
       "text": {"field": "p"}
     }},

    {"data": {"values": [{}]}, "mark": {"type": "rect", "fill": "transparent", "stroke": "#808080", "strokeWidth": 1.2},
     "encoding": {"x": {"datum": -2.557, "type": "quantitative", "scale": {"domain": [0.19,4.45], "range": [880.7,948], "nice": false, "zero": false}, "axis": null}, "x2": {"datum": 4.89},
                  "y": {"datum": -901, "type": "quantitative", "scale": {"domain": [0,20000], "range": [124.3,13.3], "nice": false, "zero": false}, "axis": null}, "y2": {"datum": 21802}}},
    {"data": {"name": "aucC"}, "mark": {"type": "rule", "color": "#1a1a1a", "strokeWidth": 1.2},
     "encoding": {"x": {"field": "k", "type": "quantitative", "scale": {"domain": [0.19,4.45], "range": [880.7,948], "nice": false, "zero": false}, "axis": null},
                  "y": {"field": "m", "type": "quantitative", "scale": {"domain": [0,20000], "range": [124.3,13.3], "nice": false, "zero": false}, "axis": null}, "y2": {"field": "hi"}}},
    {"data": {"name": "aucC"}, "mark": {"type": "tick", "orient": "horizontal", "size": 5, "thickness": 1.2, "color": "#1a1a1a"},
     "encoding": {"x": {"field": "k", "type": "quantitative", "scale": {"domain": [0.19,4.45], "range": [880.7,948], "nice": false, "zero": false}, "axis": null},
                  "y": {"field": "hi", "type": "quantitative", "scale": {"domain": [0,20000], "range": [124.3,13.3], "nice": false, "zero": false}, "axis": null}}},
    {"data": {"name": "aucC"}, "mark": {"type": "bar", "orient": "vertical", "width": 11.5, "stroke": "#1a1a1a", "strokeWidth": 1},
     "encoding": {"x": {"field": "k", "type": "quantitative", "scale": {"domain": [0.19,4.45], "range": [880.7,948], "nice": false, "zero": false}, "axis": {"orient": "bottom", "offset": -523.7, "labels": false, "ticks": false, "title": null}},
                  "y": {"field": "m", "type": "quantitative", "stack": null, "scale": {"domain": [0,20000], "range": [124.3,13.3], "nice": false, "zero": false}, "axis": {"orient": "left", "offset": -880.7, "values": [0,5000,10000,15000,20000], "format": "d", "labelFontSize": 8, "tickSize": 3, "labelPadding": 1, "title": "GTT - AUC above baseline", "titleFontSize": 9.5, "titleX": -32.4, "titleBaseline": "middle"}},
                  "y2": {"datum": 0},
                  "color": {"field": "g", "type": "nominal", "scale": {"domain": ["CDKO-FA","CDKO-FT","CC-FA","CC-FT"], "range": ["#F7941D","#EF4123","#9E9E9E","#666666"]}, "legend": null}}},
    {"data": {"name": "sigAucC"}, "mark": {"type": "rule", "color": "#1a1a1a", "strokeWidth": 1.2},
     "encoding": {"x": {"field": "x1", "type": "quantitative", "scale": {"domain": [0.19,4.45], "range": [880.7,948], "nice": false, "zero": false}, "axis": null}, "x2": {"field": "x2"},
                  "y": {"field": "y", "type": "quantitative", "scale": {"domain": [0,20000], "range": [124.3,13.3], "nice": false, "zero": false}, "axis": null}}},
    {"data": {"name": "sigAucC"}, "mark": {"type": "text", "fontSize": 10, "align": "center", "baseline": "alphabetic"},
     "encoding": {"x": {"field": "lx", "type": "quantitative", "scale": {"domain": [0.19,4.45], "range": [880.7,948], "nice": false, "zero": false}, "axis": null},
                  "y": {"field": "y", "type": "quantitative", "scale": {"domain": [0,20000], "range": [124.3,13.3], "nice": false, "zero": false}, "axis": null}, "text": {"field": "lab"}}},

    {"data": {"values": [{}]}, "mark": {"type": "rect", "fill": "#E6E6E6"},
     "encoding": {"x": {"datum": 4.5, "type": "quantitative", "scale": {"domain": [0.5,8.5], "range": [81,225], "nice": false, "zero": false}, "axis": null}, "x2": {"datum": 8.5},
                  "y": {"datum": 0, "type": "quantitative", "scale": {"domain": [0,300], "range": [444,283], "nice": false, "zero": false}, "axis": null}, "y2": {"datum": 300}}},
    {"data": {"values": [{}]}, "mark": {"type": "rule", "color": "#9A9A9A", "strokeDash": [1.5,1.5], "strokeWidth": 1},
     "encoding": {"x": {"datum": 4.5, "type": "quantitative", "scale": {"domain": [0.5,8.5], "range": [81,225], "nice": false, "zero": false}, "axis": null},
                  "y": {"datum": 0, "type": "quantitative", "scale": {"domain": [0,300], "range": [444,283], "nice": false, "zero": false}, "axis": null}, "y2": {"datum": 300}}},
    {"data": {"name": "barD"}, "mark": {"type": "rule", "color": "#1a1a1a", "strokeWidth": 1.2},
     "encoding": {"x": {"field": "i", "type": "quantitative", "scale": {"domain": [0.5,8.5], "range": [81,225], "nice": false, "zero": false}, "axis": null},
                  "y": {"field": "m", "type": "quantitative", "scale": {"domain": [0,300], "range": [444,283], "nice": false, "zero": false}, "axis": null}, "y2": {"field": "hi"}}},
    {"data": {"name": "barD"}, "mark": {"type": "tick", "orient": "horizontal", "size": 5, "thickness": 1.2, "color": "#1a1a1a"},
     "encoding": {"x": {"field": "i", "type": "quantitative", "scale": {"domain": [0.5,8.5], "range": [81,225], "nice": false, "zero": false}, "axis": null},
                  "y": {"field": "hi", "type": "quantitative", "scale": {"domain": [0,300], "range": [444,283], "nice": false, "zero": false}, "axis": null}}},
    {"data": {"name": "barD"}, "mark": {"type": "bar", "orient": "vertical", "width": 11, "stroke": "#1a1a1a", "strokeWidth": 1},
     "encoding": {"x": {"field": "i", "type": "quantitative", "scale": {"domain": [0.5,8.5], "range": [81,225], "nice": false, "zero": false}, "axis": {"orient": "bottom", "offset": -204, "values": [2.5,6.5], "labelExpr": "datum.value < 4.5 ? 'Fasted' : 'Refed'", "ticks": false, "title": null, "labelFontSize": 12, "labelPadding": 3}},
                  "y": {"field": "m", "type": "quantitative", "stack": null, "scale": {"domain": [0,300], "range": [444,283], "nice": false, "zero": false}, "axis": {"orient": "left", "offset": -81, "values": [0,100,200,300], "format": "d", "title": "Serum Glucose (mg/dL)", "titleFontSize": 12, "titleX": -34, "titleBaseline": "middle"}},
                  "y2": {"datum": 0},
                  "color": {"field": "g", "type": "nominal", "scale": {"domain": ["Bmal1-LKO-FA","Bmal1-LKO-FT","Bmal1-LWT-FA","Bmal1-LWT-FT"], "range": ["#C39BD3","#93278F","#999999","#4D4D4D"]}, "legend": null}}},
    {"data": {"values": [{"p": "D"}]},
     "mark": {"type": "text", "fontSize": 16, "fontWeight": "bold", "align": "center", "baseline": "alphabetic"},
     "encoding": {"x": {"datum": -3.03, "type": "quantitative", "scale": {"domain": [0.5,8.5], "range": [81,225], "nice": false, "zero": false}, "axis": null},
                  "y": {"datum": 313, "type": "quantitative", "scale": {"domain": [0,300], "range": [444,283], "nice": false, "zero": false}, "axis": null}, "text": {"field": "p"}}},

    {"data": {"values": [{}]}, "mark": {"type": "rect", "fill": "#E6E6E6"},
     "encoding": {"x": {"datum": 4.5, "type": "quantitative", "scale": {"domain": [0.5,8.5], "range": [415.3,560], "nice": false, "zero": false}, "axis": null}, "x2": {"datum": 8.5},
                  "y": {"datum": 0, "type": "quantitative", "scale": {"domain": [0,250], "range": [443,282], "nice": false, "zero": false}, "axis": null}, "y2": {"datum": 250}}},
    {"data": {"name": "barE"}, "mark": {"type": "rule", "color": "#1a1a1a", "strokeWidth": 1.2},
     "encoding": {"x": {"field": "i", "type": "quantitative", "scale": {"domain": [0.5,8.5], "range": [415.3,560], "nice": false, "zero": false}, "axis": null},
                  "y": {"field": "m", "type": "quantitative", "scale": {"domain": [0,250], "range": [443,282], "nice": false, "zero": false}, "axis": null}, "y2": {"field": "hi"}}},
    {"data": {"name": "barE"}, "mark": {"type": "tick", "orient": "horizontal", "size": 5, "thickness": 1.2, "color": "#1a1a1a"},
     "encoding": {"x": {"field": "i", "type": "quantitative", "scale": {"domain": [0.5,8.5], "range": [415.3,560], "nice": false, "zero": false}, "axis": null},
                  "y": {"field": "hi", "type": "quantitative", "scale": {"domain": [0,250], "range": [443,282], "nice": false, "zero": false}, "axis": null}}},
    {"data": {"name": "barE"}, "mark": {"type": "bar", "orient": "vertical", "width": 11, "stroke": "#1a1a1a", "strokeWidth": 1},
     "encoding": {"x": {"field": "i", "type": "quantitative", "scale": {"domain": [0.5,8.5], "range": [415.3,560], "nice": false, "zero": false}, "axis": {"orient": "bottom", "offset": -205, "values": [2.5,6.5], "labelExpr": "datum.value < 4.5 ? 'Fasted' : 'Refed'", "ticks": false, "title": null, "labelFontSize": 12, "labelPadding": 3}},
                  "y": {"field": "m", "type": "quantitative", "stack": null, "scale": {"domain": [0,250], "range": [443,282], "nice": false, "zero": false}, "axis": {"orient": "left", "offset": -415.3, "values": [0,50,100,150,200,250], "format": "d", "title": "Serum Glucose (mg/dL)", "titleFontSize": 12, "titleX": -33.6, "titleBaseline": "middle"}},
                  "y2": {"datum": 0},
                  "color": {"field": "g", "type": "nominal", "scale": {"domain": ["Rev-erbα/β-LDKO-FA","Rev-erbα/β-LDKO-FT","Rev-erbα/β-LWT-FA","Rev-erbα/β -LWT-FT"], "range": ["#8DC63F","#1E7B34","#9E9E9E","#4D4D4D"]}, "legend": null}}},
    {"data": {"name": "sigE"}, "mark": {"type": "rule", "color": "#1a1a1a", "strokeWidth": 1.2},
     "encoding": {"x": {"field": "x1", "type": "quantitative", "scale": {"domain": [0.5,8.5], "range": [415.3,560], "nice": false, "zero": false}, "axis": null}, "x2": {"field": "x2"},
                  "y": {"field": "y", "type": "quantitative", "scale": {"domain": [0,250], "range": [443,282], "nice": false, "zero": false}, "axis": null}}},
    {"data": {"name": "sigE"}, "mark": {"type": "text", "fontSize": 11, "align": "center", "baseline": "alphabetic"},
     "encoding": {"x": {"field": "lx", "type": "quantitative", "scale": {"domain": [0.5,8.5], "range": [415.3,560], "nice": false, "zero": false}, "axis": null},
                  "y": {"field": "ly", "type": "quantitative", "scale": {"domain": [0,250], "range": [443,282], "nice": false, "zero": false}, "axis": null}, "text": {"field": "lab"}}},
    {"data": {"values": [{"p": "E"}]},
     "mark": {"type": "text", "fontSize": 16, "fontWeight": "bold", "align": "center", "baseline": "alphabetic"},
     "encoding": {"x": {"datum": -3.28, "type": "quantitative", "scale": {"domain": [0.5,8.5], "range": [415.3,560], "nice": false, "zero": false}, "axis": null},
                  "y": {"datum": 259.3, "type": "quantitative", "scale": {"domain": [0,250], "range": [443,282], "nice": false, "zero": false}, "axis": null}, "text": {"field": "p"}}},

    {"data": {"values": [{}]}, "mark": {"type": "rect", "fill": "#E6E6E6"},
     "encoding": {"x": {"datum": 4.5, "type": "quantitative", "scale": {"domain": [0.5,8.5], "range": [762.7,910], "nice": false, "zero": false}, "axis": null}, "x2": {"datum": 8.5},
                  "y": {"datum": 0, "type": "quantitative", "scale": {"domain": [0,250], "range": [441.5,275.7], "nice": false, "zero": false}, "axis": null}, "y2": {"datum": 250}}},
    {"data": {"values": [{}]}, "mark": {"type": "rule", "color": "#9A9A9A", "strokeDash": [1.5,1.5], "strokeWidth": 1},
     "encoding": {"x": {"datum": 4.5, "type": "quantitative", "scale": {"domain": [0.5,8.5], "range": [762.7,910], "nice": false, "zero": false}, "axis": null},
                  "y": {"datum": 0, "type": "quantitative", "scale": {"domain": [0,250], "range": [441.5,275.7], "nice": false, "zero": false}, "axis": null}, "y2": {"datum": 250}}},
    {"data": {"name": "barF"}, "mark": {"type": "rule", "color": "#1a1a1a", "strokeWidth": 1.2},
     "encoding": {"x": {"field": "i", "type": "quantitative", "scale": {"domain": [0.5,8.5], "range": [762.7,910], "nice": false, "zero": false}, "axis": null},
                  "y": {"field": "m", "type": "quantitative", "scale": {"domain": [0,250], "range": [441.5,275.7], "nice": false, "zero": false}, "axis": null}, "y2": {"field": "hi"}}},
    {"data": {"name": "barF"}, "mark": {"type": "tick", "orient": "horizontal", "size": 5, "thickness": 1.2, "color": "#1a1a1a"},
     "encoding": {"x": {"field": "i", "type": "quantitative", "scale": {"domain": [0.5,8.5], "range": [762.7,910], "nice": false, "zero": false}, "axis": null},
                  "y": {"field": "hi", "type": "quantitative", "scale": {"domain": [0,250], "range": [441.5,275.7], "nice": false, "zero": false}, "axis": null}}},
    {"data": {"name": "barF"}, "mark": {"type": "bar", "orient": "vertical", "width": 11, "stroke": "#1a1a1a", "strokeWidth": 1},
     "encoding": {"x": {"field": "i", "type": "quantitative", "scale": {"domain": [0.5,8.5], "range": [762.7,910], "nice": false, "zero": false}, "axis": {"orient": "bottom", "offset": -206.5, "values": [2.5,6.5], "labelExpr": "datum.value < 4.5 ? 'Fasted' : 'Refed'", "ticks": false, "title": null, "labelFontSize": 12, "labelPadding": 3}},
                  "y": {"field": "m", "type": "quantitative", "stack": null, "scale": {"domain": [0,250], "range": [441.5,275.7], "nice": false, "zero": false}, "axis": {"orient": "left", "offset": -762.7, "values": [0,50,100,150,200,250], "format": "d", "title": "Serum Glucose(mg/dL)", "titleFontSize": 12, "titleX": -36, "titleBaseline": "middle"}},
                  "y2": {"datum": 0},
                  "color": {"field": "g", "type": "nominal", "scale": {"domain": ["CDKO-FA","CDKO-FT","CC-FA","CC-FT"], "range": ["#F8860D","#EE4012","#BDBDBD","#6B6B6B"]}, "legend": null}}},
    {"data": {"name": "sigF"}, "mark": {"type": "rule", "color": "#1a1a1a", "strokeWidth": 1.2},
     "encoding": {"x": {"field": "x1", "type": "quantitative", "scale": {"domain": [0.5,8.5], "range": [762.7,910], "nice": false, "zero": false}, "axis": null}, "x2": {"field": "x2"},
                  "y": {"field": "y", "type": "quantitative", "scale": {"domain": [0,250], "range": [441.5,275.7], "nice": false, "zero": false}, "axis": null}}},
    {"data": {"name": "sigF"}, "mark": {"type": "text", "fontSize": 11, "align": "center", "baseline": "alphabetic"},
     "encoding": {"x": {"field": "lx", "type": "quantitative", "scale": {"domain": [0.5,8.5], "range": [762.7,910], "nice": false, "zero": false}, "axis": null},
                  "y": {"field": "ly", "type": "quantitative", "scale": {"domain": [0,250], "range": [441.5,275.7], "nice": false, "zero": false}, "axis": null}, "text": {"field": "lab"}}},
    {"data": {"values": [{"p": "F"}]},
     "mark": {"type": "text", "fontSize": 16, "fontWeight": "bold", "align": "center", "baseline": "alphabetic"},
     "encoding": {"x": {"datum": -3.01, "type": "quantitative", "scale": {"domain": [0.5,8.5], "range": [762.7,910], "nice": false, "zero": false}, "axis": null},
                  "y": {"datum": 247, "type": "quantitative", "scale": {"domain": [0,250], "range": [441.5,275.7], "nice": false, "zero": false}, "axis": null}, "text": {"field": "p"}}},

    {"data": {"values": [{}]}, "mark": {"type": "rect", "fill": "#E6E6E6"},
     "encoding": {"x": {"datum": 4.5, "type": "quantitative", "scale": {"domain": [0.5,8.5], "range": [81.3,225], "nice": false, "zero": false}, "axis": null}, "x2": {"datum": 8.5},
                  "y": {"datum": 0, "type": "quantitative", "scale": {"domain": [0,1500], "range": [627.3,469.3], "nice": false, "zero": false}, "axis": null}, "y2": {"datum": 1500}}},
    {"data": {"name": "barG"}, "mark": {"type": "rule", "color": "#1a1a1a", "strokeWidth": 1.2},
     "encoding": {"x": {"field": "i", "type": "quantitative", "scale": {"domain": [0.5,8.5], "range": [81.3,225], "nice": false, "zero": false}, "axis": null},
                  "y": {"field": "m", "type": "quantitative", "scale": {"domain": [0,1500], "range": [627.3,469.3], "nice": false, "zero": false}, "axis": null}, "y2": {"field": "hi"}}},
    {"data": {"name": "barG"}, "mark": {"type": "tick", "orient": "horizontal", "size": 5, "thickness": 1.2, "color": "#1a1a1a"},
     "encoding": {"x": {"field": "i", "type": "quantitative", "scale": {"domain": [0.5,8.5], "range": [81.3,225], "nice": false, "zero": false}, "axis": null},
                  "y": {"field": "hi", "type": "quantitative", "scale": {"domain": [0,1500], "range": [627.3,469.3], "nice": false, "zero": false}, "axis": null}}},
    {"data": {"name": "barG"}, "mark": {"type": "bar", "orient": "vertical", "width": 11, "stroke": "#1a1a1a", "strokeWidth": 1},
     "encoding": {"x": {"field": "i", "type": "quantitative", "scale": {"domain": [0.5,8.5], "range": [81.3,225], "nice": false, "zero": false}, "axis": {"orient": "bottom", "offset": -20.7, "values": [2.5,6.5], "labelExpr": "datum.value < 4.5 ? 'Fasted' : 'Refed'", "ticks": false, "title": null, "labelFontSize": 12, "labelPadding": 3}},
                  "y": {"field": "m", "type": "quantitative", "stack": null, "scale": {"domain": [0,1500], "range": [627.3,469.3], "nice": false, "zero": false}, "axis": {"orient": "left", "offset": -81.3, "values": [0,500,1000,1500], "format": "d", "title": "Serum Insulin (pg/mL)", "titleFontSize": 12, "titleX": -41.3, "titleBaseline": "middle"}},
                  "y2": {"datum": 0},
                  "color": {"field": "g", "type": "nominal", "scale": {"domain": ["Bmal1-LKO-FA","Bmal1-LKO-FT","Bmal1-LWT-FA","Bmal1-LWT-FT"], "range": ["#C39BD3","#93278F","#999999","#4D4D4D"]}, "legend": null}}},
    {"data": {"name": "sigG"}, "mark": {"type": "rule", "color": "#1a1a1a", "strokeWidth": 1.2},
     "encoding": {"x": {"field": "x1", "type": "quantitative", "scale": {"domain": [0.5,8.5], "range": [81.3,225], "nice": false, "zero": false}, "axis": null}, "x2": {"field": "x2"},
                  "y": {"field": "y", "type": "quantitative", "scale": {"domain": [0,1500], "range": [627.3,469.3], "nice": false, "zero": false}, "axis": null}}},
    {"data": {"name": "sigG"}, "mark": {"type": "text", "fontSize": 11, "align": "center", "baseline": "alphabetic"},
     "encoding": {"x": {"field": "lx", "type": "quantitative", "scale": {"domain": [0.5,8.5], "range": [81.3,225], "nice": false, "zero": false}, "axis": null},
                  "y": {"field": "ly", "type": "quantitative", "scale": {"domain": [0,1500], "range": [627.3,469.3], "nice": false, "zero": false}, "axis": null}, "text": {"field": "lab"}}},
    {"data": {"values": [{"p": "G"}]},
     "mark": {"type": "text", "fontSize": 16, "fontWeight": "bold", "align": "center", "baseline": "alphabetic"},
     "encoding": {"x": {"datum": -3.05, "type": "quantitative", "scale": {"domain": [0.5,8.5], "range": [81.3,225], "nice": false, "zero": false}, "axis": null},
                  "y": {"datum": 1512, "type": "quantitative", "scale": {"domain": [0,1500], "range": [627.3,469.3], "nice": false, "zero": false}, "axis": null}, "text": {"field": "p"}}},

    {"data": {"values": [{}]}, "mark": {"type": "rect", "fill": "#E6E6E6"},
     "encoding": {"x": {"datum": 4.5, "type": "quantitative", "scale": {"domain": [0.5,8.5], "range": [415.3,559.3], "nice": false, "zero": false}, "axis": null}, "x2": {"datum": 8.5},
                  "y": {"datum": 0, "type": "quantitative", "scale": {"domain": [0,4000], "range": [627.3,470], "nice": false, "zero": false}, "axis": null}, "y2": {"datum": 4000}}},
    {"data": {"name": "barH"}, "mark": {"type": "rule", "color": "#1a1a1a", "strokeWidth": 1.2},
     "encoding": {"x": {"field": "i", "type": "quantitative", "scale": {"domain": [0.5,8.5], "range": [415.3,559.3], "nice": false, "zero": false}, "axis": null},
                  "y": {"field": "m", "type": "quantitative", "scale": {"domain": [0,4000], "range": [627.3,470], "nice": false, "zero": false}, "axis": null}, "y2": {"field": "hi"}}},
    {"data": {"name": "barH"}, "mark": {"type": "tick", "orient": "horizontal", "size": 5, "thickness": 1.2, "color": "#1a1a1a"},
     "encoding": {"x": {"field": "i", "type": "quantitative", "scale": {"domain": [0.5,8.5], "range": [415.3,559.3], "nice": false, "zero": false}, "axis": null},
                  "y": {"field": "hi", "type": "quantitative", "scale": {"domain": [0,4000], "range": [627.3,470], "nice": false, "zero": false}, "axis": null}}},
    {"data": {"name": "barH"}, "mark": {"type": "bar", "orient": "vertical", "width": 11, "stroke": "#1a1a1a", "strokeWidth": 1},
     "encoding": {"x": {"field": "i", "type": "quantitative", "scale": {"domain": [0.5,8.5], "range": [415.3,559.3], "nice": false, "zero": false}, "axis": {"orient": "bottom", "offset": -20.7, "values": [2.5,6.5], "labelExpr": "datum.value < 4.5 ? 'Fasted' : 'Refed'", "ticks": false, "title": null, "labelFontSize": 12, "labelPadding": 3}},
                  "y": {"field": "m", "type": "quantitative", "stack": null, "scale": {"domain": [0,4000], "range": [627.3,470], "nice": false, "zero": false}, "axis": {"orient": "left", "offset": -415.3, "values": [0,1000,2000,3000,4000], "format": "d", "title": "Serum Insulin (pg/mL)", "titleFontSize": 12, "titleX": -42, "titleBaseline": "middle"}},
                  "y2": {"datum": 0},
                  "color": {"field": "g", "type": "nominal", "scale": {"domain": ["Rev-erbα/β-LDKO-FA","Rev-erbα/β-LDKO-FT","Rev-erbα/β-LWT-FA","Rev-erbα/β -LWT-FT"], "range": ["#8DC63F","#1E7B34","#9E9E9E","#4D4D4D"]}, "legend": null}}},
    {"data": {"name": "sigH"}, "mark": {"type": "rule", "color": "#1a1a1a", "strokeWidth": 1.2},
     "encoding": {"x": {"field": "x1", "type": "quantitative", "scale": {"domain": [0.5,8.5], "range": [415.3,559.3], "nice": false, "zero": false}, "axis": null}, "x2": {"field": "x2"},
                  "y": {"field": "y", "type": "quantitative", "scale": {"domain": [0,4000], "range": [627.3,470], "nice": false, "zero": false}, "axis": null}}},
    {"data": {"name": "sigH"}, "mark": {"type": "text", "fontSize": 11, "align": "center", "baseline": "alphabetic"},
     "encoding": {"x": {"field": "lx", "type": "quantitative", "scale": {"domain": [0.5,8.5], "range": [415.3,559.3], "nice": false, "zero": false}, "axis": null},
                  "y": {"field": "ly", "type": "quantitative", "scale": {"domain": [0,4000], "range": [627.3,470], "nice": false, "zero": false}, "axis": null}, "text": {"field": "lab"}}},
    {"data": {"values": [{"p": "H"}]},
     "mark": {"type": "text", "fontSize": 16, "fontWeight": "bold", "align": "center", "baseline": "alphabetic"},
     "encoding": {"x": {"datum": -3.29, "type": "quantitative", "scale": {"domain": [0.5,8.5], "range": [415.3,559.3], "nice": false, "zero": false}, "axis": null},
                  "y": {"datum": 4025, "type": "quantitative", "scale": {"domain": [0,4000], "range": [627.3,470], "nice": false, "zero": false}, "axis": null}, "text": {"field": "p"}}},

    {"data": {"values": [{}]}, "mark": {"type": "rect", "fill": "#E6E6E6"},
     "encoding": {"x": {"datum": 4.5, "type": "quantitative", "scale": {"domain": [0.5,8.5], "range": [762.7,912.7], "nice": false, "zero": false}, "axis": null}, "x2": {"datum": 8.5},
                  "y": {"datum": 0, "type": "quantitative", "scale": {"domain": [0,1300], "range": [627.3,460.7], "nice": false, "zero": false}, "axis": null}, "y2": {"datum": 1300}}},
    {"data": {"values": [{}]}, "mark": {"type": "rule", "color": "#9A9A9A", "strokeDash": [1.5,1.5], "strokeWidth": 1},
     "encoding": {"x": {"datum": 4.5, "type": "quantitative", "scale": {"domain": [0.5,8.5], "range": [762.7,912.7], "nice": false, "zero": false}, "axis": null},
                  "y": {"datum": 0, "type": "quantitative", "scale": {"domain": [0,1300], "range": [627.3,460.7], "nice": false, "zero": false}, "axis": null}, "y2": {"datum": 1300}}},
    {"data": {"name": "barI"}, "mark": {"type": "rule", "color": "#1a1a1a", "strokeWidth": 1.2},
     "encoding": {"x": {"field": "i", "type": "quantitative", "scale": {"domain": [0.5,8.5], "range": [762.7,912.7], "nice": false, "zero": false}, "axis": null},
                  "y": {"field": "m", "type": "quantitative", "scale": {"domain": [0,1300], "range": [627.3,460.7], "nice": false, "zero": false}, "axis": null}, "y2": {"field": "hi"}}},
    {"data": {"name": "barI"}, "mark": {"type": "tick", "orient": "horizontal", "size": 5, "thickness": 1.2, "color": "#1a1a1a"},
     "encoding": {"x": {"field": "i", "type": "quantitative", "scale": {"domain": [0.5,8.5], "range": [762.7,912.7], "nice": false, "zero": false}, "axis": null},
                  "y": {"field": "hi", "type": "quantitative", "scale": {"domain": [0,1300], "range": [627.3,460.7], "nice": false, "zero": false}, "axis": null}}},
    {"data": {"name": "barI"}, "mark": {"type": "bar", "orient": "vertical", "width": 11, "stroke": "#1a1a1a", "strokeWidth": 1},
     "encoding": {"x": {"field": "i", "type": "quantitative", "scale": {"domain": [0.5,8.5], "range": [762.7,912.7], "nice": false, "zero": false}, "axis": {"orient": "bottom", "offset": -20.7, "values": [2.5,6.5], "labelExpr": "datum.value < 4.5 ? 'Fasted' : 'Refed'", "ticks": false, "title": null, "labelFontSize": 12, "labelPadding": 3}},
                  "y": {"field": "m", "type": "quantitative", "stack": null, "scale": {"domain": [0,1300], "range": [627.3,460.7], "nice": false, "zero": false}, "axis": {"orient": "left", "offset": -762.7, "values": [0,500,1000], "format": "d", "title": "Serum Insulin (pg/mL)", "titleFontSize": 12, "titleX": -45.4, "titleBaseline": "middle"}},
                  "y2": {"datum": 0},
                  "color": {"field": "g", "type": "nominal", "scale": {"domain": ["CDKO-FA","CDKO-FT","CC-FA","CC-FT"], "range": ["#F8860D","#EE4012","#BDBDBD","#6B6B6B"]}, "legend": null}}},
    {"data": {"name": "sigI"}, "mark": {"type": "rule", "color": "#1a1a1a", "strokeWidth": 1.2},
     "encoding": {"x": {"field": "x1", "type": "quantitative", "scale": {"domain": [0.5,8.5], "range": [762.7,912.7], "nice": false, "zero": false}, "axis": null}, "x2": {"field": "x2"},
                  "y": {"field": "y", "type": "quantitative", "scale": {"domain": [0,1300], "range": [627.3,460.7], "nice": false, "zero": false}, "axis": null}}},
    {"data": {"name": "sigI"}, "mark": {"type": "text", "fontSize": 11, "align": "center", "baseline": "alphabetic"},
     "encoding": {"x": {"field": "lx", "type": "quantitative", "scale": {"domain": [0.5,8.5], "range": [762.7,912.7], "nice": false, "zero": false}, "axis": null},
                  "y": {"field": "ly", "type": "quantitative", "scale": {"domain": [0,1300], "range": [627.3,460.7], "nice": false, "zero": false}, "axis": null}, "text": {"field": "lab"}}},
    {"data": {"values": [{"p": "I"}]},
     "mark": {"type": "text", "fontSize": 16, "fontWeight": "bold", "align": "center", "baseline": "alphabetic"},
     "encoding": {"x": {"datum": -3.27, "type": "quantitative", "scale": {"domain": [0.5,8.5], "range": [762.7,912.7], "nice": false, "zero": false}, "axis": null},
                  "y": {"datum": 1243, "type": "quantitative", "scale": {"domain": [0,1300], "range": [627.3,460.7], "nice": false, "zero": false}, "axis": null}, "text": {"field": "p"}}}
]
}
